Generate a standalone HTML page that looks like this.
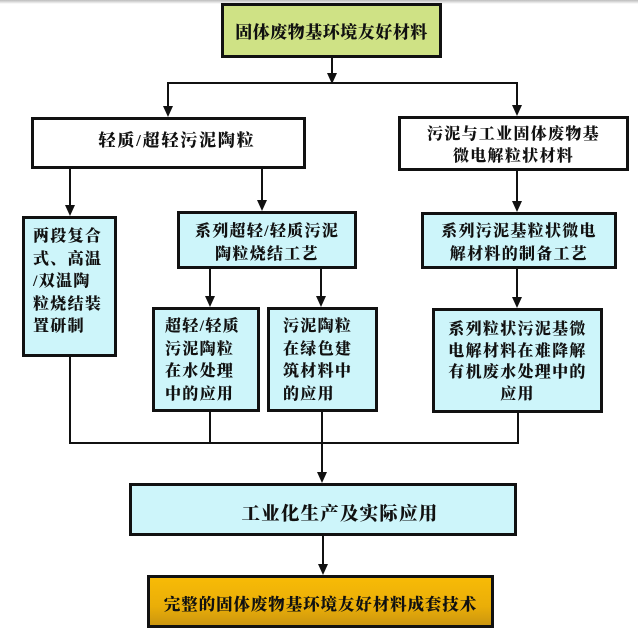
<!DOCTYPE html>
<html><head><meta charset="utf-8">
<style>
html,body{margin:0;padding:0;background:#fff;}
#c{position:relative;width:638px;height:638px;overflow:hidden;background:#fff;}
svg{position:absolute;left:0;top:0;}
.t{position:absolute;font-family:"Liberation Serif","Noto Serif CJK SC","Noto Sans CJK SC",serif;font-weight:900;color:#111;white-space:nowrap;font-size:16px;letter-spacing:1.3px;line-height:22.5px;}
.c{text-align:center;}
</style></head><body>
<div id="c">
<div style="position:absolute;left:0;top:0;width:638px;height:4px;background:linear-gradient(#bcbcbc,#fff);"></div>
<svg width="638" height="638" viewBox="0 0 638 638">
<defs>
<linearGradient id="og" x1="0" y1="0" x2="0" y2="1">
<stop offset="0" stop-color="#f8bb06"/>
<stop offset="0.6" stop-color="#eaae08"/>
<stop offset="1" stop-color="#c99410"/>
</linearGradient>
</defs>
<g stroke="#111" stroke-width="2" fill="none">
<line x1="332" y1="58" x2="332" y2="76"/>
<line x1="167" y1="83" x2="518" y2="83"/>
<line x1="168" y1="83" x2="168" y2="110"/>
<line x1="517" y1="83" x2="517" y2="109"/>
<line x1="70" y1="169" x2="70" y2="209"/>
<line x1="262" y1="169" x2="262" y2="204"/>
<line x1="517" y1="171" x2="517" y2="205"/>
<line x1="210" y1="269" x2="210" y2="300"/>
<line x1="321" y1="269" x2="321" y2="300"/>
<line x1="517" y1="269" x2="517" y2="301"/>
<line x1="70" y1="357" x2="70" y2="443"/>
<line x1="210" y1="412" x2="210" y2="443"/>
<line x1="322" y1="412" x2="322" y2="476"/>
<line x1="518" y1="413" x2="518" y2="443"/>
<line x1="69" y1="443" x2="519" y2="443"/>
<line x1="323" y1="536" x2="323" y2="568"/>
</g>
<g fill="#111">
<polygon points="332,84 327,73 337,73"/>
<polygon points="168,117 163,106 173,106"/>
<polygon points="517,116 512,105 522,105"/>
<polygon points="70,216 65,205 75,205"/>
<polygon points="262,211 257,200 267,200"/>
<polygon points="517,212 512,201 522,201"/>
<polygon points="210,307 205,296 215,296"/>
<polygon points="321,307 316,296 326,296"/>
<polygon points="517,308 512,297 522,297"/>
<polygon points="322,483 317,472 327,472"/>
<polygon points="323,575 318,564 328,564"/>
</g>
<g stroke="#111" stroke-width="3">
<rect x="222.5" y="4.5" width="218" height="52" fill="#cfe285"/>
<rect x="32.5" y="118.5" width="272" height="49" fill="#fff"/>
<rect x="399.5" y="117.5" width="228" height="52" fill="#fff"/>
<rect x="23.5" y="217.5" width="92" height="138" fill="#cdf5fa"/>
<rect x="178.5" y="212.5" width="177" height="55" fill="#cdf5fa"/>
<rect x="422.5" y="213.5" width="193" height="54" fill="#cdf5fa"/>
<rect x="153.5" y="308.5" width="105" height="102" fill="#cdf5fa"/>
<rect x="268.5" y="308.5" width="108" height="102" fill="#cdf5fa"/>
<rect x="433.5" y="309.5" width="168" height="102" fill="#cdf5fa"/>
<rect x="130.5" y="484.5" width="385" height="50" fill="#cdf5fa"/>
<rect x="148.5" y="576.5" width="344" height="50" fill="url(#og)"/>
</g>
</svg>

<div class="t c" style="left:221px;width:221px;top:20px;font-size:17px;letter-spacing:0.5px;line-height:26px;">固体废物基环境友好材料</div>
<div class="t c" style="left:48px;width:258px;top:129px;font-size:17px;letter-spacing:1.8px;line-height:24px;">轻质/超轻污泥陶粒</div>
<div class="t c" style="left:398px;width:231px;top:124px;line-height:21.5px;">污泥与工业固体废物基<br>微电解粒状材料</div>
<div class="t" style="left:33px;top:226px;">两段复合<br>式、高温<br>/双温陶<br>粒烧结装<br>置研制</div>
<div class="t c" style="left:177px;width:180px;top:221px;">系列超轻/轻质污泥<br>陶粒烧结工艺</div>
<div class="t c" style="left:421px;width:196px;top:221px;">系列污泥基粒状微电<br>解材料的制备工艺</div>
<div class="t" style="left:165px;top:316px;">超轻/轻质<br>污泥陶粒<br>在水处理<br>中的应用</div>
<div class="t" style="left:283px;top:316px;">污泥陶粒<br>在绿色建<br>筑材料中<br>的应用</div>
<div class="t c" style="left:432px;width:171px;top:319px;line-height:21.6px;">系列粒状污泥基微<br>电解材料在难降解<br>有机废水处理中的<br>应用</div>
<div class="t c" style="left:163px;width:354px;top:502px;font-size:18.5px;letter-spacing:1.2px;line-height:26px;">工业化生产及实际应用</div>
<div class="t c" style="left:147px;width:347px;top:592px;font-size:16.5px;letter-spacing:0.9px;line-height:26px;">完整的固体废物基环境友好材料成套技术</div>
</div>
</body></html>
